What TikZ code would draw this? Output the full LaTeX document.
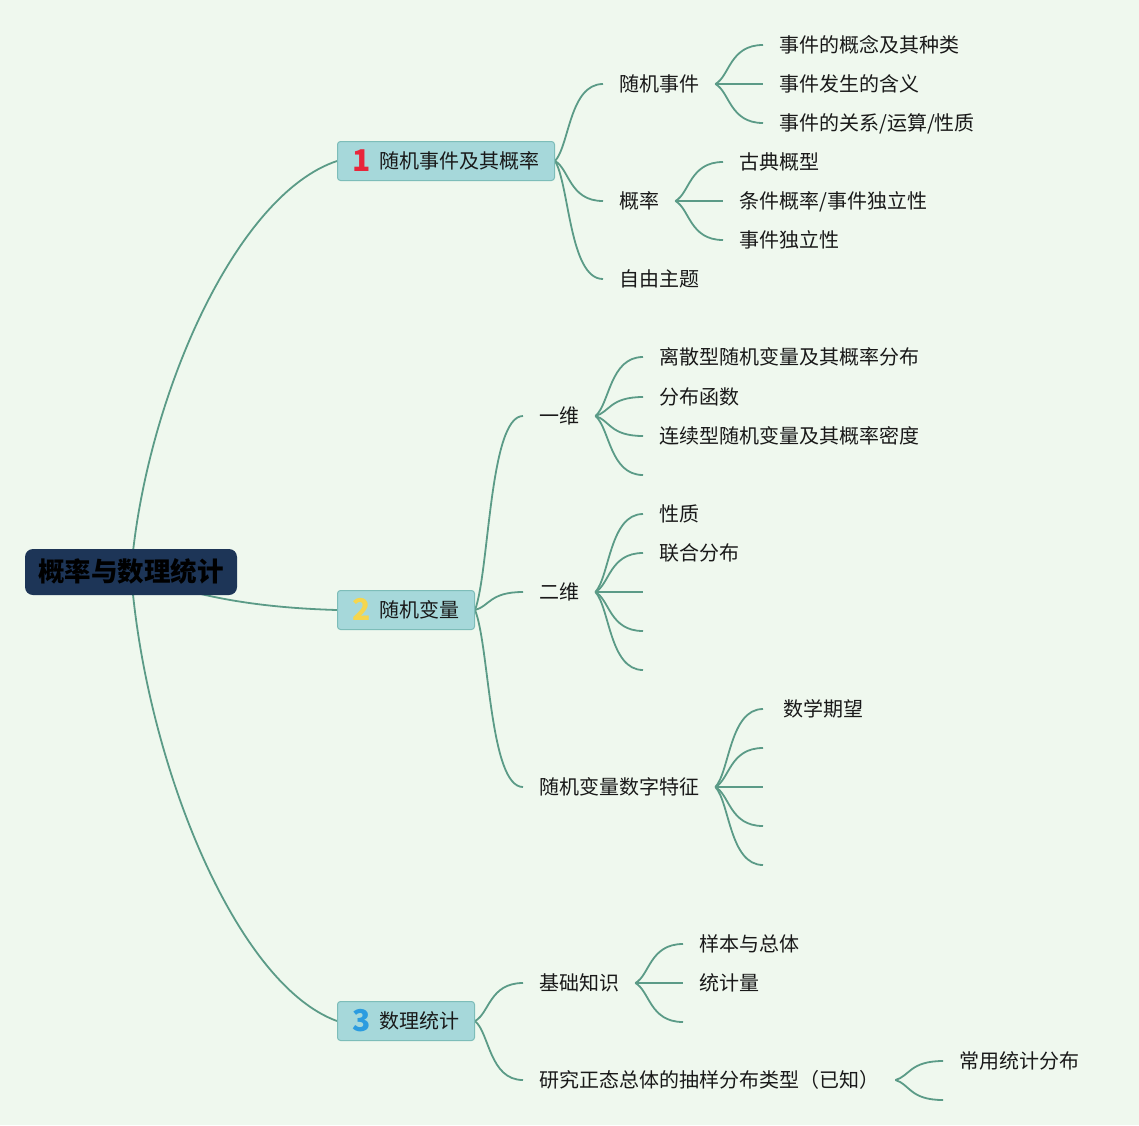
\documentclass[tikz,border=0pt]{standalone}
\usepackage{fontspec}
\setmainfont{Noto Sans CJK SC}
\usepackage{tikz}
\usetikzlibrary{calc, backgrounds}

\definecolor{pagebg}{HTML}{EFF8EE}
\definecolor{rootbg}{HTML}{1D3557}
\definecolor{topicbg}{HTML}{A6D8DA}
\definecolor{topicline}{HTML}{7DBDB9}
\definecolor{linkcol}{HTML}{5B9B87}
\definecolor{numred}{HTML}{E8253A}
\definecolor{numyellow}{HTML}{F5D64E}
\definecolor{numblue}{HTML}{2B9CE0}

\newcommand{\topicnum}[2]{{\fontsize{30}{30}\selectfont\bfseries\textcolor{#1}{\raisebox{-3.4pt}{#2}}}\hspace{8pt}}

\tikzset{
    root/.style={fill=rootbg, rounded corners=8pt, minimum width=212pt, minimum height=46pt, inner sep=0pt, text=black, font=\fontsize{26.5}{30}\selectfont\bfseries, text height=23pt, text depth=3.5pt},
    topic/.style={anchor=west, fill=topicbg, draw=topicline, line width=1pt, rounded corners=3pt, minimum height=39pt, inner sep=0pt, text=black!90, font=\fontsize{20}{24}\selectfont, text height=17.4pt, text depth=2.6pt},
    item/.style={anchor=west, inner xsep=16pt, inner ysep=0pt, text=black!90, font=\fontsize{20}{24}\selectfont, text height=17.4pt, text depth=2.6pt},
    link/.style={draw=linkcol, line width=1.8pt},
    twig/.style={link, to path={let \p1=(\tikztostart), \p2=(\tikztotarget) in .. controls ({\x1+0.3*(\x2-\x1)},{\y1+0.2*(\y2-\y1)}) and ({\x1+0.3*(\x2-\x1)},{\y2}) .. (\p2)}}
}

\begin{document}
\begin{tikzpicture}[x=1pt, y=1pt]
        \node[root] (root) at (131,-572) {概率与数理统计};

        \node[topic, minimum width=217pt] (t1) at (337,-161) {\topicnum{numred}{1}随机事件及其概率};
        \node[topic, minimum width=137pt] (t2) at (337,-610) {\topicnum{numyellow}{2}随机变量};
        \node[topic, minimum width=137pt] (t3) at (337,-1021) {\topicnum{numblue}{3}数理统计};

        \node[item] (event) at (603,-84) {随机事件};
        \node[item] (prob) at (603,-201) {概率};
        \node[item] (free) at (603,-279) {自由主题};
        \node[item] (event1) at (763,-45) {事件的概念及其种类};
        \node[item] (event2) at (763,-84) {事件发生的含义};
        \node[item] (event3) at (763,-123) {事件的关系/运算/性质};
        \node[item] (prob1) at (723,-162) {古典概型};
        \node[item] (prob2) at (723,-201) {条件概率/事件独立性};
        \node[item] (prob3) at (723,-240) {事件独立性};

        \node[item] (dim1) at (523,-416) {一维};
        \node[item] (dim2) at (523,-592) {二维};
        \node[item] (feat) at (523,-787) {随机变量数字特征};
        \node[item] (dima) at (643,-357) {离散型随机变量及其概率分布};
        \node[item] (dimb) at (643,-397) {分布函数};
        \node[item] (dimc) at (643,-436) {连续型随机变量及其概率密度};
        \coordinate (dimd) at (643,-475);
        \node[item] (joint1) at (643,-514) {性质};
        \node[item] (joint2) at (643,-553) {联合分布};
        \coordinate (joint3) at (643,-592);
        \coordinate (joint4) at (643,-631);
        \coordinate (joint5) at (643,-670);
        \node[item, inner xsep=20pt] (feat1) at (763,-709) {数学期望};
        \coordinate (feat2) at (763,-748);
        \coordinate (feat3) at (763,-787);
        \coordinate (feat4) at (763,-826);
        \coordinate (feat5) at (763,-865);

        \node[item] (basic) at (523,-983) {基础知识};
        \node[item] (sample) at (523,-1080) {研究正态总体的抽样分布类型（已知）};
        \node[item] (basic1) at (683,-944) {样本与总体};
        \node[item] (basic2) at (683,-983) {统计量};
        \coordinate (basic3) at (683,-1022);
        \node[item] (sample1) at (943,-1061) {常用统计分布};
        \coordinate (sample2) at (943,-1100);

        \begin{scope}[on background layer]
            \fill[pagebg] (0,0) rectangle (1139,-1125);
            \draw[link] (root.center) .. controls (145,-400) and (235,-195) .. (t1.west);
            \draw[link] (root.center) .. controls (200,-600) and (270,-608) .. (t2.west);
            \draw[link] (root.center) .. controls (145,-760) and (235,-984) .. (t3.west);
            \foreach \a/\b in {t1/event, t1/prob, t1/free, event/event1, event/event2, event/event3, prob/prob1, prob/prob2, prob/prob3,
                t2/dim1, t2/dim2, t2/feat, dim1/dima, dim1/dimb, dim1/dimc, dim2/joint1, dim2/joint2, feat/feat1,
                t3/basic, t3/sample, basic/basic1, basic/basic2, sample/sample1}
                \draw[twig] (\a.east) to (\b.west);
            \foreach \a/\b in {dim1/dimd, dim2/joint3, dim2/joint4, dim2/joint5, feat/feat2, feat/feat3, feat/feat4, feat/feat5,
                basic/basic3, sample/sample2}
                \draw[twig] (\a.east) to (\b);
        \end{scope}
\end{tikzpicture}
\end{document}
